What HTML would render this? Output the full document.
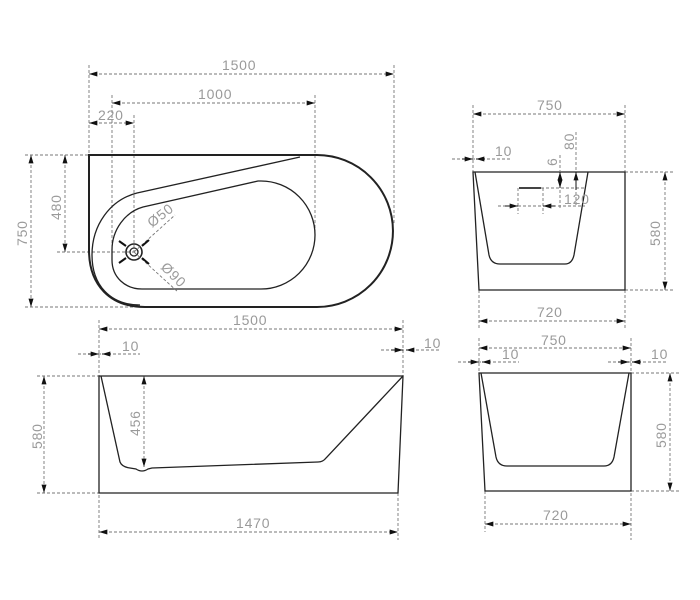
<!DOCTYPE html>
<html><head><meta charset="utf-8"><style>
html,body{margin:0;padding:0;background:#fff}
svg{display:block}
text{font-family:"Liberation Sans",sans-serif;font-size:14px;fill:#9a9a9a;font-weight:normal;letter-spacing:0.8px}
.d{stroke:#777;stroke-width:0.9;stroke-dasharray:3,2;fill:none}
.o{stroke:#222;stroke-width:1.3;fill:none}
</style></head><body>
<svg width="700" height="600" viewBox="0 0 700 600" xmlns="http://www.w3.org/2000/svg">
<defs>
<marker id="a" viewBox="0 0 10 6" refX="10" refY="3" markerWidth="10" markerHeight="5" orient="auto-start-reverse" markerUnits="userSpaceOnUse"><path d="M0,0 L10,3 L0,6 Z" fill="#111"/></marker>
</defs>

<!-- ===== Top plan view ===== -->
<line class="d" x1="89" y1="65" x2="89" y2="155"/>
<line class="d" x1="394" y1="65" x2="394" y2="225"/>
<line class="d" x1="89" y1="74" x2="394" y2="74" marker-start="url(#a)" marker-end="url(#a)"/>
<text x="222" y="70">1500</text>
<line class="d" x1="112" y1="95" x2="112" y2="250"/>
<line class="d" x1="315" y1="95" x2="315" y2="233"/>
<line class="d" x1="112" y1="103" x2="315" y2="103" marker-start="url(#a)" marker-end="url(#a)"/>
<text x="198" y="99">1000</text>
<line class="d" x1="134" y1="115" x2="134" y2="252"/>
<line class="d" x1="89" y1="123" x2="134" y2="123" marker-start="url(#a)" marker-end="url(#a)"/>
<text x="98" y="120">220</text>
<line class="d" x1="25" y1="155" x2="89" y2="155"/>
<line class="d" x1="25" y1="307" x2="135" y2="307"/>
<line class="d" x1="31" y1="155" x2="31" y2="307" marker-start="url(#a)" marker-end="url(#a)"/>
<text transform="translate(27,246) rotate(-90)">750</text>
<line class="d" x1="57" y1="252" x2="134" y2="252"/>
<line class="d" x1="65" y1="155" x2="65" y2="252" marker-start="url(#a)" marker-end="url(#a)"/>
<text transform="translate(61,220) rotate(-90)">480</text>
<path class="o" style="stroke-width:2" d="M89,155 L317,155 A76,76 0 0 1 317,307 L145,307 C110,307 89,285 89,250 Z"/>
<path class="o" d="M300,157 L137,193 C110,200 92,225 92,255 C92,285 110,305 140,305"/>
<path class="o" d="M258,181 L143,207 C125,212 112,230 112,250 L112,260 C112,277 125,289 142,289 L261,289 A54,54 0 0 0 261,181 Z"/>
<circle cx="134" cy="252" r="8" class="o" style="stroke-width:1.6"/>
<circle cx="134" cy="252" r="4" class="o"/>
<line class="d" x1="134" y1="252" x2="175" y2="215"/>
<line class="d" x1="134" y1="252" x2="178" y2="292"/>
<line x1="119" y1="241" x2="126" y2="246" stroke="#111" stroke-width="2"/>
<line x1="149" y1="240" x2="142" y2="246" stroke="#111" stroke-width="2"/>
<line x1="119" y1="263" x2="126" y2="258" stroke="#111" stroke-width="2"/>
<line x1="149" y1="264" x2="142" y2="258" stroke="#111" stroke-width="2"/>
<text transform="translate(152,228) rotate(-38)">Ø50</text>
<text transform="translate(160,268) rotate(45)">Ø90</text>

<!-- ===== Top right end view ===== -->
<line class="d" x1="473" y1="105" x2="473" y2="172"/>
<line class="d" x1="625" y1="105" x2="625" y2="172"/>
<line class="d" x1="473" y1="114" x2="625" y2="114" marker-start="url(#a)" marker-end="url(#a)"/>
<text x="537" y="110">750</text>
<line class="d" x1="452" y1="159" x2="512" y2="159"/>
<line x1="462" y1="159" x2="473" y2="159" stroke="#111" marker-end="url(#a)"/>
<line x1="485" y1="159" x2="476" y2="159" stroke="#111" marker-end="url(#a)"/>
<text x="495" y="156">10</text>
<line class="d" x1="625" y1="172" x2="675" y2="172"/>
<line class="d" x1="625" y1="290" x2="675" y2="290"/>
<line class="d" x1="665" y1="172" x2="665" y2="290" marker-start="url(#a)" marker-end="url(#a)"/>
<text transform="translate(660,246) rotate(-90)">580</text>
<line class="d" x1="479" y1="290" x2="479" y2="330"/>
<line class="d" x1="625" y1="290" x2="625" y2="330"/>
<line class="d" x1="479" y1="321" x2="625" y2="321" marker-start="url(#a)" marker-end="url(#a)"/>
<text x="537" y="317">720</text>
<path class="o" d="M473,172 L625,172 L625,290 L479,290 Z"/>
<path class="o" d="M475,172 L489,255 Q491,264 500,264 L565,264 Q572,264 574,255 L588,172"/>
<line x1="519" y1="188" x2="541" y2="188" stroke="#444" stroke-width="2"/>
<line class="d" x1="541" y1="188" x2="585" y2="188"/>
<line class="d" x1="518" y1="188" x2="518" y2="214"/>
<line class="d" x1="543" y1="188" x2="543" y2="214"/>
<line class="d" x1="498" y1="206" x2="585" y2="206"/>
<line x1="505" y1="206" x2="518" y2="206" stroke="#111" marker-end="url(#a)"/>
<line x1="555" y1="206" x2="543" y2="206" stroke="#111" marker-end="url(#a)"/>
<line class="d" x1="560" y1="155" x2="560" y2="210"/>
<line x1="560" y1="172" x2="560" y2="188" stroke="#111" marker-start="url(#a)" marker-end="url(#a)"/>
<line class="d" x1="576" y1="132" x2="576" y2="205"/>
<line x1="576" y1="172" x2="576" y2="190" stroke="#111" marker-start="url(#a)"/>
<text transform="translate(557,166) rotate(-90)">6</text>
<text transform="translate(574,150) rotate(-90)">80</text>
<text x="564" y="204">120</text>

<!-- ===== Bottom side view ===== -->
<line class="d" x1="99" y1="320" x2="99" y2="540"/>
<line class="d" x1="403" y1="320" x2="403" y2="376"/>
<line class="d" x1="99" y1="329" x2="403" y2="329" marker-start="url(#a)" marker-end="url(#a)"/>
<text x="233" y="325">1500</text>
<line class="d" x1="78" y1="354" x2="140" y2="354"/>
<line x1="88" y1="354" x2="99" y2="354" stroke="#111" marker-end="url(#a)"/>
<line x1="111" y1="354" x2="102" y2="354" stroke="#111" marker-end="url(#a)"/>
<text x="122" y="351">10</text>
<line class="d" x1="381" y1="350" x2="440" y2="350"/>
<line x1="391" y1="350" x2="403" y2="350" stroke="#111" marker-end="url(#a)"/>
<line x1="414" y1="350" x2="406" y2="350" stroke="#111" marker-end="url(#a)"/>
<text x="424" y="348">10</text>
<line class="d" x1="37" y1="376" x2="99" y2="376"/>
<line class="d" x1="37" y1="493" x2="99" y2="493"/>
<line class="d" x1="44" y1="376" x2="44" y2="493" marker-start="url(#a)" marker-end="url(#a)"/>
<text transform="translate(42,449) rotate(-90)">580</text>
<line class="d" x1="144" y1="376" x2="144" y2="467" marker-start="url(#a)" marker-end="url(#a)"/>
<text transform="translate(140,436) rotate(-90)">456</text>
<line class="d" x1="398" y1="493" x2="398" y2="540"/>
<line class="d" x1="99" y1="532" x2="398" y2="532" marker-start="url(#a)" marker-end="url(#a)"/>
<text x="236" y="528">1470</text>
<path class="o" d="M99,376 L403,376 L398,493 L99,493 Z"/>
<path class="o" d="M101,376 L120,462 Q122,467 130,468 L136,469 Q142,473 148,469 L152,468 L318,462 Q323,462 326,458 L403,376"/>

<!-- ===== Bottom right end view ===== -->
<line class="d" x1="479" y1="338" x2="479" y2="373"/>
<line class="d" x1="631" y1="338" x2="631" y2="540"/>
<line class="d" x1="479" y1="348" x2="631" y2="348" marker-start="url(#a)" marker-end="url(#a)"/>
<text x="541" y="345">750</text>
<line class="d" x1="458" y1="362" x2="519" y2="362"/>
<line x1="468" y1="362" x2="479" y2="362" stroke="#111" marker-end="url(#a)"/>
<line x1="490" y1="362" x2="482" y2="362" stroke="#111" marker-end="url(#a)"/>
<text x="502" y="359">10</text>
<line class="d" x1="608" y1="362" x2="668" y2="362"/>
<line x1="618" y1="362" x2="629" y2="362" stroke="#111" marker-end="url(#a)"/>
<line x1="641" y1="362" x2="632" y2="362" stroke="#111" marker-end="url(#a)"/>
<text x="651" y="359">10</text>
<line class="d" x1="631" y1="373" x2="680" y2="373"/>
<line class="d" x1="631" y1="491" x2="680" y2="491"/>
<line class="d" x1="670" y1="373" x2="670" y2="491" marker-start="url(#a)" marker-end="url(#a)"/>
<text transform="translate(666,448) rotate(-90)">580</text>
<line class="d" x1="485" y1="491" x2="485" y2="532"/>
<line class="d" x1="485" y1="524" x2="631" y2="524" marker-start="url(#a)" marker-end="url(#a)"/>
<text x="543" y="520">720</text>
<path class="o" d="M479,373 L631,373 L631,491 L485,491 Z"/>
<path class="o" d="M481,373 L496,457 Q498,466 507,466 L604,466 Q612,466 614,457 L629,373"/>
</svg>
</body></html>
